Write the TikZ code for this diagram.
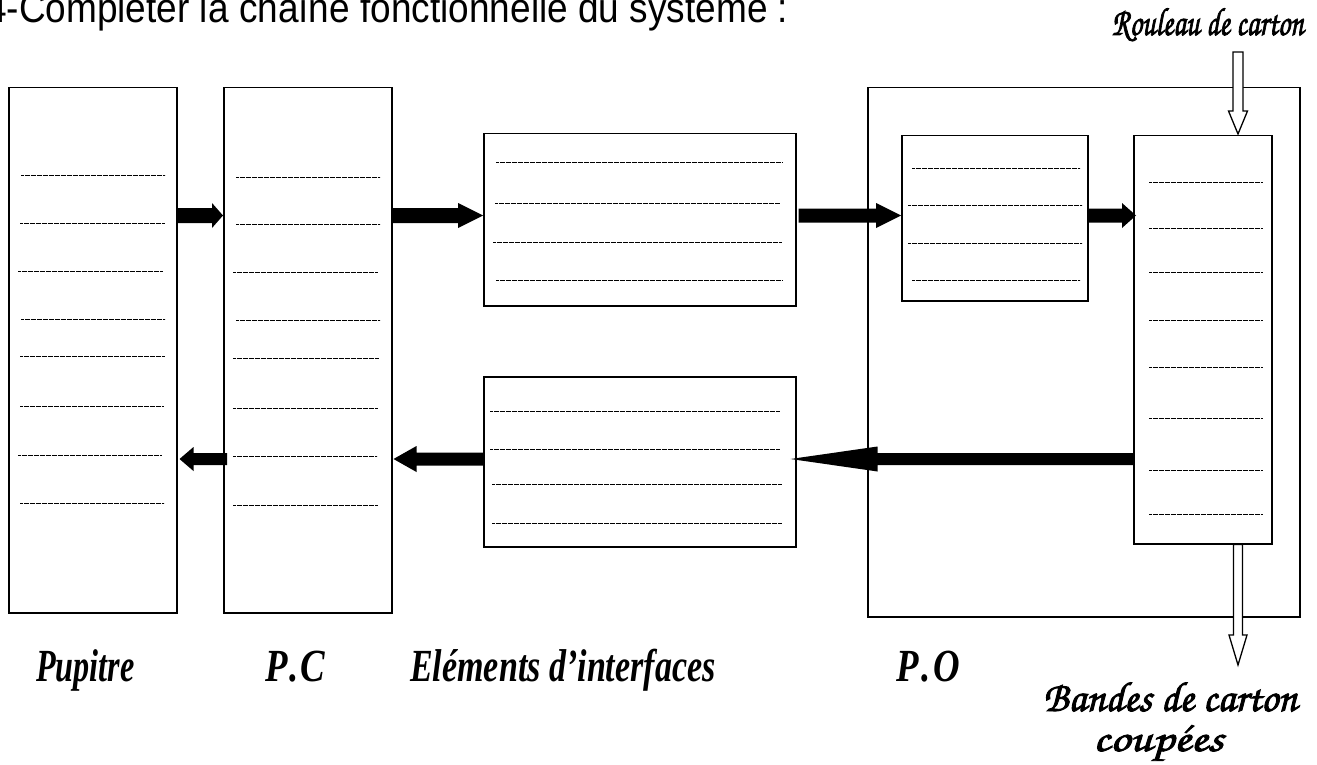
\documentclass[tikz,border=0pt]{standalone}
\usepackage[T1,TU]{fontenc}
\usepackage{fontspec}
\setmainfont{Liberation Serif}
\newfontfamily\arialf{Liberation Sans}
\usetikzlibrary{calc}
\newcommand\callig{\fontencoding{T1}\fontfamily{pzc}\fontseries{mb}\fontshape{it}\selectfont}
\newcommand\heavy[1]{\special{pdf:literal direct 2 Tr 0.22 w}#1\special{pdf:literal direct 0 Tr}}
% horizontal fat arrow: #1 start, #2 tip, #3 shaft half, #4 head half, #5 head length
\newcommand\fatarrow[5]{%
  \fill let \p1=(#1), \p2=(#2), \n1={ifthenelse(\x2>\x1,1,-1)} in
    (\x1,{\y1+#3}) -- ({\x2-\n1*#5},{\y1+#3}) -- ({\x2-\n1*#5},{\y1+#4}) -- (\x2,\y1)
    -- ({\x2-\n1*#5},{\y1-#4}) -- ({\x2-\n1*#5},{\y1-#3}) -- (\x1,{\y1-#3}) -- cycle;}
% hollow downward arrow: #1 start (top), #2 tip, #3 shaft half, #4 head half, #5 head length
\newcommand\hollowdown[5]{%
  \filldraw[hollow] let \p1=(#1), \p2=(#2) in
    ({\x1-#3},\y1) -- ({\x1-#3},{\y2+#5}) -- ({\x1-#4},{\y2+#5}) -- (\x1,\y2)
    -- ({\x1+#4},{\y2+#5}) -- ({\x1+#3},{\y2+#5}) -- ({\x1+#3},\y1) -- cycle;}
\begin{document}
\begin{tikzpicture}[x=1pt,y=-1pt,
  box/.style={draw, line width=1.5pt, inner sep=0pt, anchor=north west},
  dotline/.style={line width=0.9pt, dash pattern=on 0.7pt off 0.5pt},
  hollow/.style={draw=black, fill=white, line width=1.3pt, line join=miter},
  lbl/.style={inner sep=0pt, anchor=base west, font=\bfseries\itshape\fontsize{46}{46}\selectfont}]
\useasboundingbox (0,0) rectangle (1317,765);
\fill[white] (0,0) rectangle (1317,765);

% title (clipped at top of page)
\node[anchor=base west, inner sep=0pt, font=\arialf\fontsize{37}{40}\selectfont] (title) at (-14,23)
  {\scalebox{1}[1.12]{4-Compléter la chaîne fonctionnelle du système :}};

% boxes
\node[box, minimum width=168pt, minimum height=525pt] (pup) at (8,87) {};
\node[box, minimum width=168pt, minimum height=525pt] (pc) at (223,87) {};
\node[box, minimum width=312pt, minimum height=172pt] (eit) at (483,133) {};
\node[box, minimum width=312pt, minimum height=170pt] (eib) at (483,376) {};
\node[box, minimum width=432pt, minimum height=529pt] (po) at (867,87) {};
\node[box, minimum width=186pt, minimum height=165pt] (act) at (901,135) {};
\node[box, minimum width=138pt, minimum height=408pt] (eff) at (1133,135) {};

% dotted fill-in lines
\foreach \y/\a/\b in {175/21/165, 223/20/165, 271/18/163, 319/21/165, 356/20/165, 406/20/163, 455/18/161, 503/20/164,
  177/236/380, 224/236/380, 272/233/378, 320/236/380, 358/233/379, 408/233/378, 456/233/377, 505/233/378,
  162/496/782, 203/495/780, 242/493/782, 280/496/782,
  411/490/780, 449/490/780, 484/492/782, 523/492/782,
  168/912/1080, 205/908/1082, 243/908/1082, 280/912/1080,
  182/1149/1262, 228/1149/1262, 272/1149/1262, 320/1149/1262, 367/1149/1262, 418/1149/1262, 470/1149/1262, 514/1149/1262}
  \draw[dotline] (\a,\y) -- (\b,\y);

% reference heights for the fat arrows
\coordinate (r1) at (0,215.5);
\coordinate (r2) at (0,459);
\coordinate (ht) at (1238,52);
\coordinate (hb) at (1238,665);

\fatarrow{pup.east |- r1}{pc.west |- r1}{7.5pt}{12.5pt}{11pt}
\fatarrow{pc.east |- r1}{eit.west |- r1}{7.5pt}{12.5pt}{25pt}
\fatarrow{$(eit.east |- r1)+(2,0)$}{act.west |- r1}{7pt}{12.5pt}{25pt}
\fatarrow{act.east |- r1}{$(eff.west |- r1)+(3,0)$}{7pt}{12.5pt}{14pt}
\fatarrow{eff.west |- r2}{$(eib.east |- r2)+(-6,0)$}{6pt}{12.5pt}{87pt}
\fatarrow{eib.west |- r2}{$(pc.east |- r2)+(1,0)$}{6.5pt}{13pt}{23pt}
\fatarrow{$(pc.west |- r2)+(4,0)$}{$(pup.east |- r2)+(2,0)$}{6pt}{12pt}{14pt}

% hollow material arrows
\hollowdown{ht}{$(eff.north -| ht)+(0,-1)$}{5pt}{9.5pt}{23pt}
\hollowdown{eff.south -| hb}{hb}{4.5pt}{9pt}{30pt}

% labels
\node[lbl] (lpup) at (36,681) {\scalebox{0.7}[1]{Pupitre}};
\node[lbl] (lpc) at (265,681) {\scalebox{0.8}[1]{P\kern2.5pt.\kern2.5pt C}};
\node[lbl] (lei) at (410,681) {\scalebox{0.74}[1]{Eléments d’interfaces}};
\node[lbl] (lpo) at (896,681) {\scalebox{0.8}[1]{P\kern3.5pt.\kern3.5pt O}};

\node[anchor=base east, inner sep=0pt] (roul) at (1304,35) {\resizebox{192pt}{28pt}{\callig\heavy{Rouleau de carton}}};
\node[anchor=base west, inner sep=0pt] (band) at (1043,711) {\resizebox{254pt}{30pt}{\callig\heavy{Bandes de carton}}};
\node[anchor=base west, inner sep=0pt] (coup) at (1093,751) {\resizebox{130pt}{26pt}{\callig\heavy{coupées}}};
\end{tikzpicture}
\end{document}
